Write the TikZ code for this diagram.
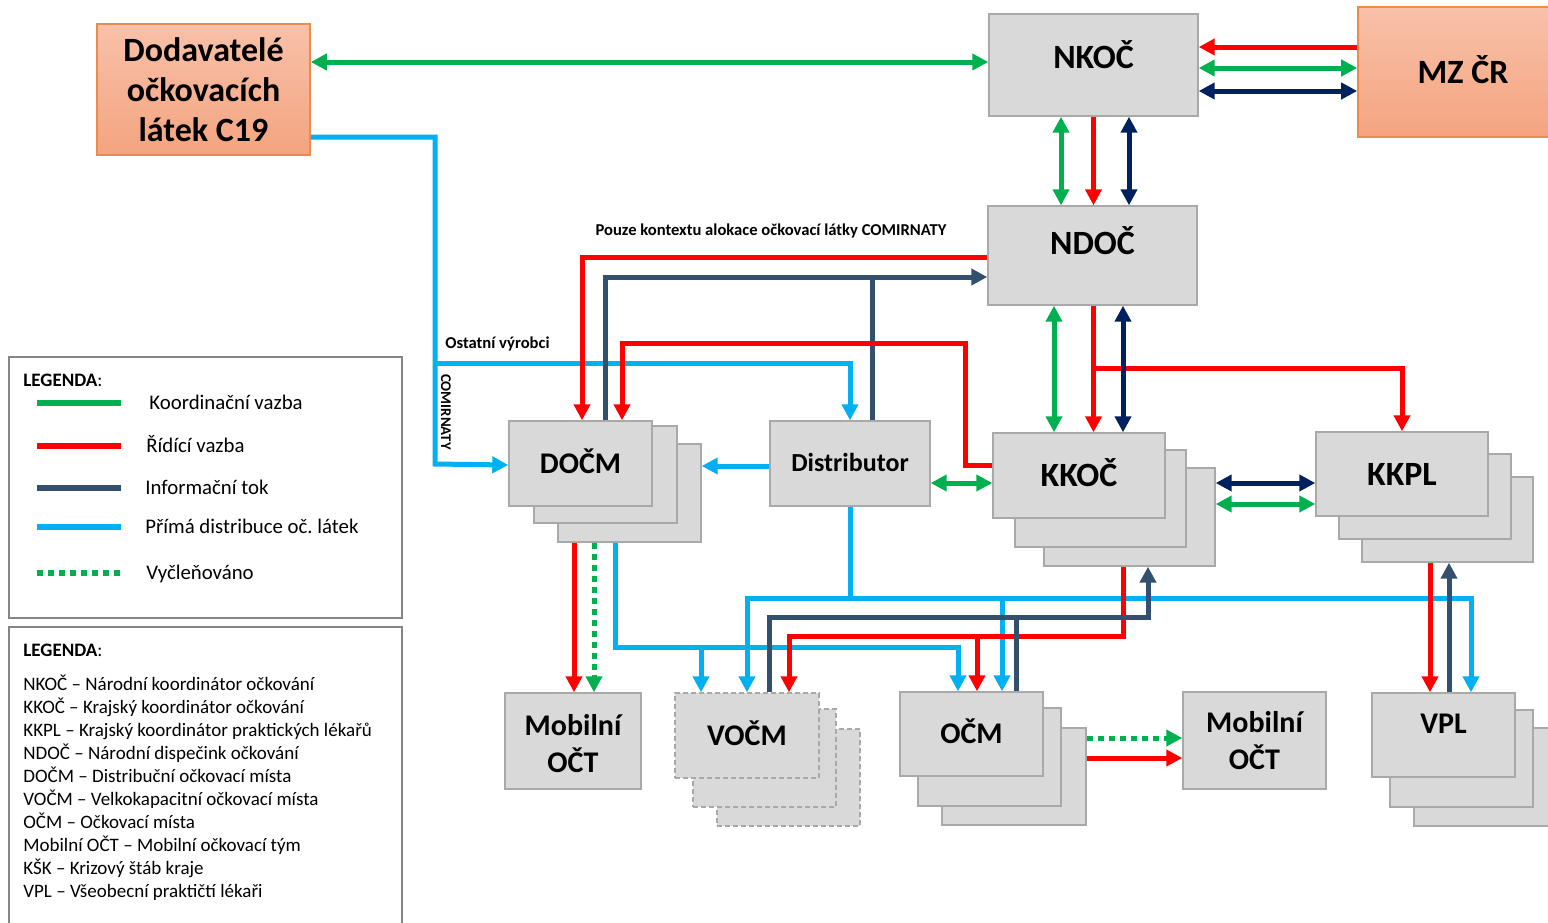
\documentclass[tikz,border=0pt]{standalone}
\usepackage{fontspec}
\setmainfont{Carlito}
\usetikzlibrary{arrows.meta}

\definecolor{kgreen}{HTML}{00B050}
\definecolor{kred}{HTML}{FF0000}
\definecolor{knavy}{HTML}{002060}
\definecolor{kinfo}{HTML}{34506F}
\definecolor{kblue}{HTML}{00B0F0}
\definecolor{boxfill}{HTML}{D9D9D9}
\definecolor{boxedge}{HTML}{A9A9A9}
\definecolor{ortop}{HTML}{F8C1A9}
\definecolor{orbot}{HTML}{F4A47F}
\definecolor{oredge}{HTML}{EE8A4A}
\definecolor{legedge}{HTML}{858585}

\tikzset{
  sheet/.style={draw=boxedge, fill=boxfill, line width=0.7pt, inner sep=0pt},
  dsheet/.style={sheet, dash pattern=on 2.5pt off 1.5pt},
  orbox/.style={draw=oredge, line width=0.8pt, top color=ortop, bottom color=orbot, inner sep=0pt, align=center},
  big/.style={font=\bfseries\fontsize{17}{20}\selectfont, text height=11pt, text depth=#1},
  big/.default=0pt,
  mid/.style={font=\bfseries\fontsize{15}{18.5}\selectfont, text height=9.7pt, text depth=#1},
  mid/.default=0pt,
  twoline/.style={font=\bfseries\fontsize{15}{18.5}\selectfont, align=center},
  wire/.style={line width=2.5pt},
  koord/.style={wire, kgreen},
  ridici/.style={wire, kred},
  info/.style={wire, kinfo},
  navyarr/.style={wire, knavy},
  prima/.style={wire, kblue},
  vycl/.style={wire, kgreen, dash pattern=on 3pt off 2.5pt},
  note/.style={font=\bfseries\fontsize{8.3}{10}\selectfont, inner sep=0pt},
  legframe/.style={draw=legedge, line width=1pt},
  legtext/.style={font=\fontsize{10.4}{12}\selectfont, anchor=base west, inner sep=0pt},
  abbrtext/.style={font=\fontsize{9.5}{11}\selectfont, anchor=base west, inner sep=0pt},
}

\begin{document}
\begin{tikzpicture}[x=0.5pt, y=-0.5pt, >={Triangle[length=8pt,width=8pt]}]
  \useasboundingbox (0,0) rectangle (1548,922);
  % legend frames
  \draw[legframe] (9,357) rectangle (402,618);
  \draw[legframe] (9,627) rectangle (402,940);
  % national level
  \node[orbox, font=\bfseries\fontsize{17}{20}\selectfont, minimum width=106.5pt, minimum height=65.5pt] (dod) at (203.5,89.5) {Dodavatelé\\očkovacích\\látek C19};
  \node[orbox, big, minimum width=105pt, minimum height=65pt] (mzcr) at (1463,72) {MZ ČR};
  \node[sheet, big=8pt, minimum width=104.5pt, minimum height=51pt] (nkoc) at (1093.5,65) {NKOČ};
  \node[sheet, big=12.5pt, minimum width=104.5pt, minimum height=49.5pt] (ndoc) at (1092.5,255.5) {NDOČ};
  % regional level (stacked sheets)
  \node[sheet, minimum width=71.5pt, minimum height=49pt] (docmC) at (629.5,493) {};
  \node[sheet, minimum width=71.5pt, minimum height=48.5pt] (docmB) at (605.5,474.5) {};
  \node[sheet, mid, minimum width=71.5pt, minimum height=42.5pt] (docm) at (580.5,463.5) {DOČM};
  \node[sheet, font=\bfseries\fontsize{13}{15}\selectfont, text height=8.4pt, text depth=0pt, minimum width=80pt, minimum height=42.5pt] (distr) at (850,463.5) {Distributor};
  \node[sheet, minimum width=85.5pt, minimum height=49pt] (kkocC) at (1129.5,517) {};
  \node[sheet, minimum width=85.5pt, minimum height=48.5pt] (kkocB) at (1100.5,498.5) {};
  \node[sheet, big, minimum width=86pt, minimum height=42.5pt] (kkoc) at (1079,475.5) {KKOČ};
  \node[sheet, minimum width=85.5pt, minimum height=42.5pt] (kkplC) at (1447.5,519.5) {};
  \node[sheet, minimum width=86pt, minimum height=42.5pt] (kkplB) at (1425,496.5) {};
  \node[sheet, big, minimum width=86pt, minimum height=42pt] (kkpl) at (1402,474) {KKPL};
  % vaccination sites
  \node[sheet, twoline, minimum width=68pt, minimum height=48pt] (mobL) at (573,741) {\rule{0pt}{13pt}Mobilní\\OČT};
  \node[dsheet, minimum width=71.5pt, minimum height=48.5pt] (vocmC) at (788.5,777.5) {};
  \node[dsheet, minimum width=71.5pt, minimum height=49pt] (vocmB) at (764.5,758) {};
  \node[dsheet, mid, minimum width=72pt, minimum height=42.5pt] (vocm) at (747,735.5) {VOČM};
  \node[sheet, minimum width=72pt, minimum height=48.5pt] (ocmC) at (1014,776.5) {};
  \node[sheet, minimum width=71.5pt, minimum height=49pt] (ocmB) at (989.5,757) {};
  \node[sheet, mid, minimum width=71.5pt, minimum height=42pt] (ocm) at (971.5,734) {OČM};
  \node[sheet, twoline, minimum width=71.5pt, minimum height=48.5pt] (mobR) at (1254.5,740.5) {Mobilní\\OČT};
  \node[sheet, minimum width=71.5pt, minimum height=49pt] (vplC) at (1485.5,777) {};
  \node[sheet, minimum width=71.5pt, minimum height=48.5pt] (vplB) at (1461.5,758.5) {};
  \node[sheet, mid=11.5pt, minimum width=71.5pt, minimum height=42pt] (vpl) at (1443.5,735) {VPL};

  % suppliers
  \draw[koord, <->] (dod.east |- 0,62) -- (nkoc.west |- 0,62);
  \draw[prima, ->] (dod.east |- 0,137) -| (435,464) -- (docm.west |- 0,465);
  \draw[prima, ->] (435,363) -| (distr.north);
  % ministry
  \draw[ridici, ->] (mzcr.west |- 0,47) -- (nkoc.east |- 0,47);
  \draw[koord, <->] (nkoc.east |- 0,68) -- (mzcr.west |- 0,68);
  \draw[navyarr, <->] (nkoc.east |- 0,91) -- (mzcr.west |- 0,91);
  % NKOČ - NDOČ
  \draw[koord, <->] (nkoc.south -| 1061,0) -- (ndoc.north -| 1061,0);
  \draw[ridici, ->] (nkoc.south) -- (ndoc.north -| 1093.5,0);
  \draw[navyarr, <->] (nkoc.south -| 1129,0) -- (ndoc.north -| 1129,0);
  % NDOČ - DOČM
  \draw[ridici, ->] (ndoc.west |- 0,257) -| (docm.north -| 582,0);
  \draw[info, ->] (docm.north -| 605,0) |- (ndoc.west |- 0,277);
  \draw[info] (distr.north -| 872,0) -- (872,277);
  \draw[ridici, ->] (kkoc.west |- 0,465) -| (965,343) -| (docm.north -| 622,0);
  % Distributor
  \draw[prima, ->] (distr.west |- 0,466) -- (docmC.east |- 0,466);
  \draw[koord, <->] (distr.east |- 0,483) -- (kkoc.west |- 0,483);
  % NDOČ - KKOČ, KKPL
  \draw[koord, <->] (ndoc.south -| 1054,0) -- (kkoc.north -| 1054,0);
  \draw[ridici, ->] (ndoc.south -| 1093.5,0) -- (kkoc.north -| 1093.5,0);
  \draw[ridici, ->] (1093.5,368) -| (kkpl.north);
  \draw[navyarr, <->] (ndoc.south -| 1123,0) -- (kkoc.north -| 1123,0);
  \draw[navyarr, <->] (kkocC.east |- 0,483) -- (kkpl.west |- 0,483);
  \draw[koord, <->] (kkocC.east |- 0,504) -- (kkpl.west |- 0,504);
  % distribution to sites
  \draw[prima] (distr.south) -- (distr.south |- 0,598);
  \draw[prima, <->] (vocm.north) |- (1471,598) -- (vpl.north -| 1471,0);
  \draw[prima, ->] (1002,598) -- (ocm.north -| 1002,0);
  \draw[prima, ->] (docmC.south -| 615,0) |- (958,647) -- (ocm.north -| 958,0);
  \draw[prima, ->] (701,647) -- (vocm.north -| 701,0);
  % DOČM - mobile team
  \draw[ridici, ->] (docmC.south -| 574,0) -- (mobL.north -| 574,0);
  \draw[vycl, ->] (docmC.south -| 594,0) -- (mobL.north -| 594,0);
  % KKOČ - sites
  \draw[ridici, ->] (kkocC.south -| 1123,0) |- (789,636) -- (vocm.north -| 789,0);
  \draw[ridici, ->] (977,636) -- (ocm.north -| 977,0);
  \draw[info, ->] (vocm.north -| 769,0) |- (1148,617) -- (kkocC.south -| 1148,0);
  \draw[info] (ocm.north -| 1016,0) -- (1016,617);
  % OČM - mobile team
  \draw[vycl, ->] (ocmC.east |- 0,738) -- (mobR.west |- 0,738);
  \draw[ridici, ->] (ocmC.east |- 0,758) -- (mobR.west |- 0,758);
  % KKPL - VPL
  \draw[ridici, ->] (kkplC.south -| 1430,0) -- (vpl.north -| 1430,0);
  \draw[info, ->] (vpl.north -| 1449,0) -- (kkplC.south -| 1449,0);

  % notes
  \node[note] (pouze) at (771,231) {Pouze kontextu alokace očkovací látky COMIRNATY};
  \node[note, anchor=west] (ostatni) at (445,344) {Ostatní výrobci};
  \node[note, rotate=-90, font=\bfseries\fontsize{7.4}{9}\selectfont] (comir) at (446,412) {COMIRNATY};

  % legend of connectors
  \node[abbrtext] (legA) at (23,386) {\textbf{LEGENDA}:};
  \foreach \sty/\xx/\yy/\txt in {koord/149/403/Koordinační vazba, ridici/146/446/Řídící vazba, info/145/488/Informační tok, prima/145/527/Přímá distribuce oč.\ látek, vycl/146/573/Vyčleňováno}
  {
    \draw[\sty, line width=3pt] (37,\yy) -- (121,\yy);
    \node[legtext] (leg-\sty) at (\xx,\yy+6.5) {\txt};
  }
  % legend of abbreviations
  \node[abbrtext] (legB) at (23,656) {\textbf{LEGENDA}:};
  \foreach \txt [count=\i] in {NKOČ – Národní koordinátor očkování, KKOČ – Krajský koordinátor očkování, KKPL – Krajský koordinátor praktických lékařů, NDOČ – Národní dispečink očkování, DOČM – Distribuční očkovací místa, VOČM – Velkokapacitní očkovací místa, OČM – Očkovací místa, Mobilní OČT – Mobilní očkovací tým, KŠK – Krizový štáb kraje, VPL – Všeobecní praktičtí lékaři}
    \node[abbrtext] (abbr\i) at (23,{667+23*\i}) {\txt};
\end{tikzpicture}
\end{document}
